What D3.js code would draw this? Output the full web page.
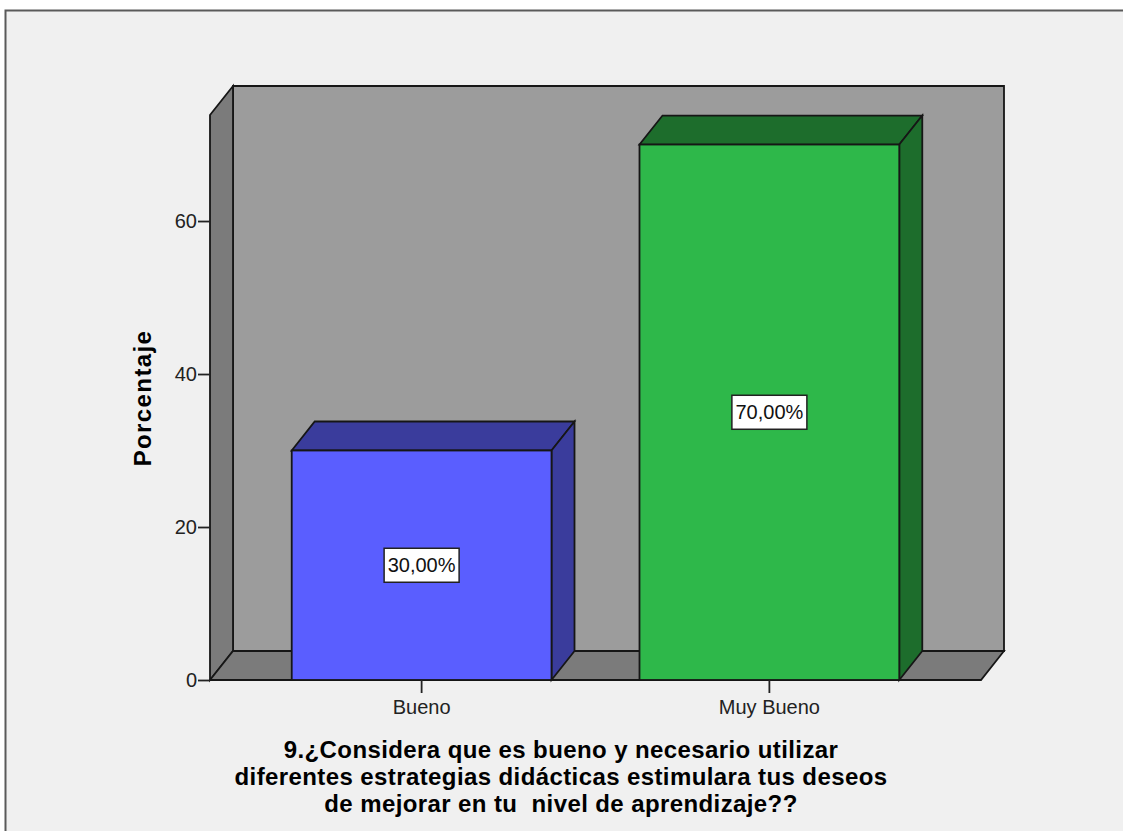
<!DOCTYPE html>
<html><head><meta charset="utf-8">
<script src="https://cdn.jsdelivr.net/npm/d3@7"></script>
<style>html,body{margin:0;padding:0;background:#fff;}svg{display:block;} text{white-space:pre;}</style>
</head><body>
<script>
const categories = ["Bueno", "Muy Bueno"];
const values = [30, 70];
const labels = ["30,00%", "70,00%"];
const yTicks = [0, 20, 40, 60];
const titleLines = ["9.¿Considera que es bueno y necesario utilizar",
  "diferentes estrategias didácticas estimulara tus deseos",
  "de mejorar en tu  nivel de aprendizaje??"];
const yLabel = "Porcentaje";

const W = 1123, H = 831;
const svg = d3.select("body").append("svg").attr("width", W).attr("height", H);
const font = "Arial, 'Liberation Sans', sans-serif";
const edge = "#161616";

svg.append("rect").attr("x", 5.5).attr("y", 10.5).attr("width", 1130).attr("height", 840)
  .attr("fill", "#f0f0f0").attr("stroke", "#5a5a5a").attr("stroke-width", 2);

const x0 = 210, x1 = 981, yB = 680, yT = 115;
const dx = 23, dy = -29;
const y = d3.scaleLinear().domain([0, 73.86]).range([yB, yT]);
const x = d3.scaleBand().domain(categories).range([x0, x1]).paddingInner(0.253).paddingOuter(0.235);

const poly = pts => "M" + pts.map(p => p.join(",")).join("L") + "Z";
// back wall
svg.append("path").attr("d", poly([[x0+dx,yT+dy],[x1+dx,yT+dy],[x1+dx,yB+dy],[x0+dx,yB+dy]]))
  .attr("fill", "#9c9c9c").attr("stroke", edge).attr("stroke-width", 1.8);
// left wall
svg.append("path").attr("d", poly([[x0,yB],[x0+dx,yB+dy],[x0+dx,yT+dy],[x0,yT]]))
  .attr("fill", "#7b7b7b").attr("stroke", edge).attr("stroke-width", 1.8);
// floor
svg.append("path").attr("d", poly([[x0,yB],[x1,yB],[x1+dx,yB+dy],[x0+dx,yB+dy]]))
  .attr("fill", "#7b7b7b").attr("stroke", edge).attr("stroke-width", 1.8);

const fronts = ["#5a5eff", "#2eb84a"];
const darks = ["#3a3c9c", "#1d6d2c"];
categories.forEach((c, i) => {
  const bx0 = x(c), bx1 = x(c) + x.bandwidth(), by = y(values[i]);
  const g = svg.append("g");
  g.append("path").attr("d", poly([[bx0,by],[bx0+dx,by+dy],[bx1+dx,by+dy],[bx1,by]]))
    .attr("fill", darks[i]).attr("stroke", edge).attr("stroke-width", 1.8);
  g.append("path").attr("d", poly([[bx1,by],[bx1+dx,by+dy],[bx1+dx,yB+dy],[bx1,yB]]))
    .attr("fill", darks[i]).attr("stroke", edge).attr("stroke-width", 1.8);
  g.append("rect").attr("x", bx0).attr("y", by).attr("width", bx1 - bx0).attr("height", yB - by)
    .attr("fill", fronts[i]).attr("stroke", edge).attr("stroke-width", 1.8);
  const cx = (bx0 + bx1) / 2, cy = y(values[i] / 2);
  g.append("rect").attr("x", cx - 37.5).attr("y", cy - 17).attr("width", 75).attr("height", 34)
    .attr("fill", "#fff").attr("stroke", "#222").attr("stroke-width", 1.5);
  g.append("text").attr("x", cx).attr("y", cy + 7).attr("text-anchor", "middle")
    .attr("font-family", font).attr("font-size", 20)
    .attr("fill", "#111").text(labels[i]);
});

// y axis
const yAxis = d3.axisLeft(y).tickValues(yTicks).tickSize(12).tickPadding(1).tickFormat(d3.format("d"));
const ya = svg.append("g").attr("transform", `translate(${x0},0)`).call(yAxis);
ya.select(".domain").remove();
ya.selectAll("line").attr("stroke", "#222").attr("stroke-width", 1.8);
ya.selectAll("text").attr("font-family", font).attr("font-size", 20).attr("fill", "#222");

// x axis
const xAxis = d3.axisBottom(x).tickSize(13).tickPadding(7);
const xa = svg.append("g").attr("transform", `translate(0,${yB})`).call(xAxis);
xa.select(".domain").remove();
xa.selectAll("line").attr("stroke", "#222").attr("stroke-width", 1.8);
xa.selectAll("text").attr("font-family", font).attr("font-size", 20).attr("fill", "#222");

svg.append("text").attr("transform", "translate(151,398) rotate(-90)").attr("text-anchor", "middle")
  .attr("font-family", font).attr("font-size", 24).attr("font-weight", "bold")
  .attr("letter-spacing", 1.4).attr("fill", "#000").text(yLabel);

titleLines.forEach((t, i) => {
  svg.append("text").attr("x", 561).attr("y", 758 + i * 27).attr("text-anchor", "middle")
    .attr("font-family", font).attr("font-size", 24).attr("font-weight", "bold")
    .attr("letter-spacing", 0.4).attr("fill", "#000").text(t);
});
</script>
</body></html>
